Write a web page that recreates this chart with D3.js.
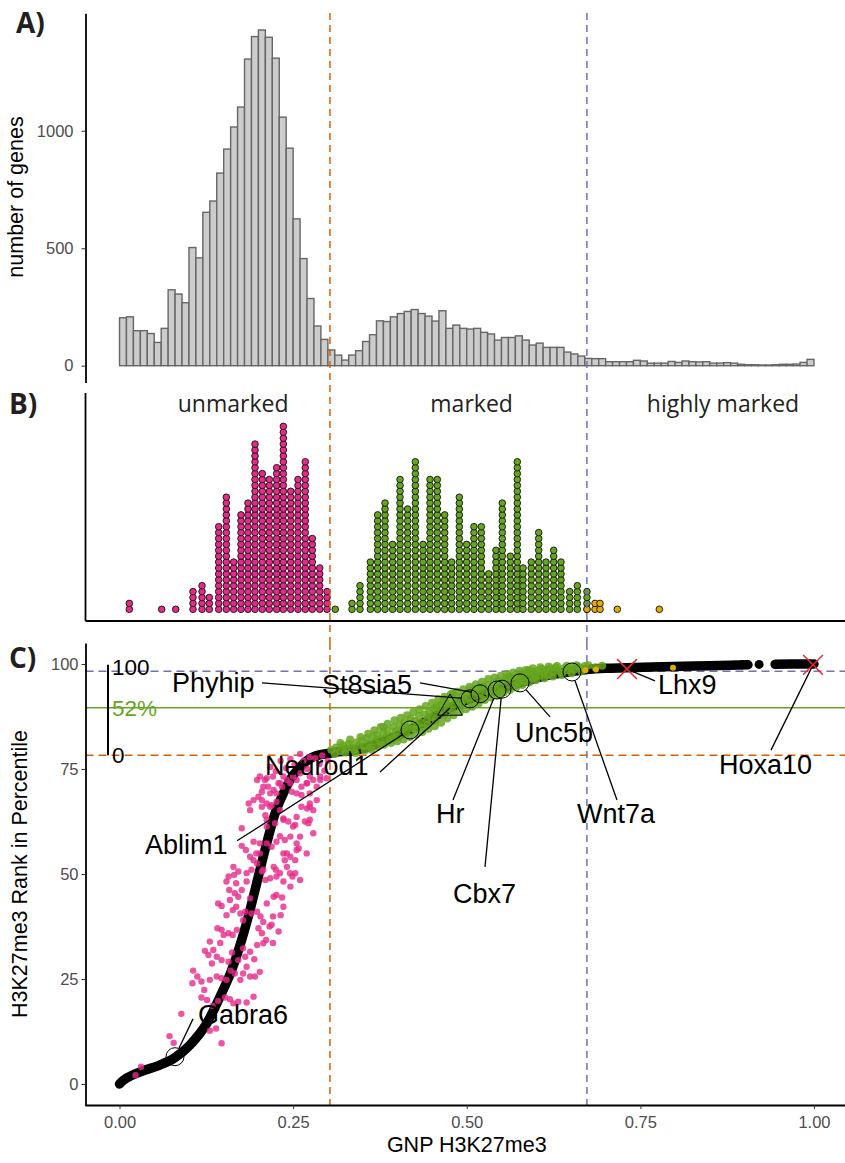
<!DOCTYPE html>
<html>
<head>
<meta charset="utf-8">
<script src="https://cdn.jsdelivr.net/npm/d3@7"></script>
<style>
  body { margin: 0; background: #fff; }
  svg { display: block; }
  .tick text { font-family: "Liberation Sans", Arial, sans-serif; font-size: 16.5px; fill: #4d4d4d; }
  .tick line { stroke: #333; }
</style>
</head>
<body>
<div id="chart"></div>
<script>
// ---- data ----

// A) histogram, 100 bins of width 0.01 over GNP H3K27me3 0..1
const binWidth = 0.01;
const histCounts = [
  204,208,149,149,137,99,159,323,305,268,
  503,459,653,701,820,922,1016,1101,1305,1401,
  1429,1398,1309,1058,926,625,456,286,169,112,
  67,45,24,45,64,103,132,191,188,208,
  222,231,239,222,211,190,234,159,173,159,
  156,159,142,135,109,120,120,127,109,88,
  96,78,78,78,58,50,41,31,30,30,
  17,17,17,17,23,20,11,11,11,18,
  14,20,17,16,17,11,11,13,11,6,
  4,4,3,3,4,6,6,7,14,27
];

// thresholds (GNP) and rank lines (percentile)
const cutUnmarked = 0.303;
const cutHigh = 0.673;
const rankHigh = 98.3;
const rankLow = 78.3;
const rankMid = 89.6;

// B) dot plot columns
const pinkX = [0.0141,0.0607,0.0809,0.1058,0.1188,0.1293,0.1428,0.1538,0.1644,0.1749,0.1850,
               0.1951,0.2056,0.2157,0.2263,0.2359,0.2465,0.2570,0.2675,0.2776,0.2883,0.2988];
const pinkN = [2,1,1,4,5,3,15,20,9,17,19,29,24,23,25,32,21,23,26,13,8,4];
const greenX = [0.3107,0.3348,0.3463,0.3612,0.3717,0.3823,0.3933,0.4039,0.4149,0.4260,0.4370,
                0.4471,0.4576,0.4682,0.4783,0.4893,0.4999,0.5104,0.5210,0.5316,0.5421,0.5512,
                0.5627,0.5728,0.5810,0.5929,0.6036,0.6141,0.6252,0.6357,0.6482,0.6592,0.6731];
const greenN = [1,2,5,9,17,19,12,23,18,26,12,23,23,17,9,20,12,15,15,7,11,19,10,26,8,9,14,9,11,9,4,5,4];
const orangeX = [0.6731,0.6847,0.6919,0.7168,0.7773];
const orangeN = [1,2,2,1,1];
const categories = ["unmarked","marked","highly marked"];
const categoryX = [0.1636,0.507,0.869];

// C) rank curve (black) and coloured genes
const blackCurve = [[0,0],[0.003,0.5],[0.03,2.9],[0.058,4.5],[0.08,6.3],[0.1015,9.3],[0.1255,14.4],
  [0.1447,20.8],[0.1615,27.1],[0.1759,34.3],[0.1879,41.4],[0.1999,49.4],[0.2119,57.3],[0.2239,64.4],
  [0.2359,69.2],[0.2455,72.4],[0.26,75.5],[0.279,77.9],[0.308,78.9],[0.351,79.9],[0.385,81.9],
  [0.418,84.3],[0.446,86.8],[0.474,89.3],[0.50,91.4],[0.525,92.9],[0.548,94.0],[0.572,95.3],
  [0.595,96.4],[0.62,97.4],[0.651,98.2],[0.673,98.7],[0.70,99.0],[0.73,99.1],[0.797,99.4],
  [0.85,99.6],[0.905,99.8]];
const blackTail = [[0.944,99.95],[0.97,100],[1.0,100]];
const blackDots = [[0.896,99.8],[0.921,99.9]];

const pinkPts = [
  [0.023,2.1],[0.031,4.1],[0.072,11.4],[0.078,9.8],[0.089,16.7],[0.130,12.7],[0.139,13.2],[0.147,9.7],
  [0.118,20.6],[0.126,20.0],[0.134,18.6],[0.142,19.8],[0.152,20.6],[0.159,20.2],[0.164,19.2],[0.171,19.6],
  [0.183,19.4],[0.193,20.8],
  [0.106,27.0],[0.112,25.6],[0.118,24.4],[0.105,24.0],[0.122,22.4],[0.130,24.8],[0.140,25.6],[0.147,25.2],
  [0.154,24.8],[0.160,27.0],[0.166,26.3],[0.174,24.8],[0.178,26.3],[0.188,25.6],[0.195,25.6],[0.202,26.7],
  [0.183,27.9],[0.157,29.1],[0.147,29.5],[0.133,28.7],
  [0.123,31.7],[0.128,30.7],[0.135,31.9],[0.140,30.3],[0.130,33.9],[0.145,33.6],[0.150,35.5],[0.157,35.9],
  [0.147,36.7],[0.141,37.1],[0.163,35.5],[0.169,36.7],[0.178,32.3],[0.181,30.3],[0.188,31.5],[0.194,29.7],
  [0.198,33.1],[0.207,33.5],[0.211,34.3],[0.205,35.9],[0.200,37.1],[0.216,37.5],[0.229,36.3],[0.221,33.6],
  [0.162,31.3],[0.171,29.5],
  [0.142,43.0],[0.147,42.4],[0.154,40.2],[0.163,41.4],[0.159,43.8],[0.168,42.2],[0.174,40.6],[0.178,39.0],
  [0.181,41.0],[0.190,40.6],[0.198,41.0],[0.203,39.9],[0.207,38.6],[0.222,44.6],[0.226,45.0],[0.234,44.4],
  [0.236,42.2],[0.232,40.2],[0.221,39.9],[0.219,37.9],[0.212,43.0],[0.158,46.2],[0.166,45.4],[0.171,44.6],
  [0.188,44.2],
  [0.164,51.7],[0.165,49.8],[0.157,49.4],[0.154,48.2],[0.168,47.8],[0.176,46.2],[0.183,48.2],[0.171,50.6],
  [0.190,51.0],[0.198,52.5],[0.205,50.6],[0.210,48.6],[0.222,51.7],[0.225,51.0],[0.231,50.2],[0.226,49.4],
  [0.236,48.2],[0.246,47.0],[0.249,49.4],[0.253,50.2],[0.241,51.7],[0.217,49.0],
  [0.176,60.9],[0.176,56.7],[0.182,55.7],[0.188,54.1],[0.197,54.9],[0.202,57.3],[0.193,57.7],[0.212,57.3],
  [0.219,56.5],[0.226,57.7],[0.231,59.0],[0.238,58.1],[0.246,58.9],[0.255,57.3],[0.258,56.1],[0.236,54.9],
  [0.246,54.1],[0.253,53.3],[0.255,55.7],[0.238,53.3],
  [0.186,66.8],[0.188,65.2],[0.193,67.6],[0.200,68.4],[0.205,66.0],[0.210,64.0],[0.212,66.8],[0.219,66.4],
  [0.226,67.2],[0.231,65.2],[0.236,63.2],[0.243,62.5],[0.255,63.6],[0.262,66.0],[0.270,65.6],[0.274,66.8],
  [0.279,65.2],[0.267,62.5],[0.272,62.1],[0.253,61.7],[0.224,62.1],[0.212,61.3],
  [0.198,72.4],[0.207,70.8],[0.212,72.8],[0.222,70.0],[0.229,71.6],[0.234,70.8],[0.236,73.2],[0.246,71.6],
  [0.248,69.6],[0.255,72.4],[0.262,70.8],[0.270,71.6],[0.274,73.2],[0.284,70.8],[0.289,72.4],[0.298,72.8],
  [0.217,69.2],[0.205,69.6],[0.262,68.8],[0.274,69.2],
  [0.260,78.6],[0.274,77.8],[0.246,77.4],[0.232,76.9],[0.288,76.2],[0.217,75.5],[0.225,74.5],[0.240,75.2],
  [0.270,75.0],[0.295,74.6],
  [0.202,73.2],[0.2095,72.4],[0.214,70.8],[0.221,73.2],[0.231,71.6],[0.241,72.4],[0.250,73.2],[0.260,74.0],
  [0.2695,71.6],[0.279,72.4],[0.289,73.2],[0.205,67.6],[0.217,66.0],[0.226,69.2],[0.255,69.2],[0.274,66.0],
  [0.284,67.6],[0.212,62.9],[0.236,62.9],[0.250,61.3],[0.274,62.9],[0.279,59.7],[0.260,58.9],[0.2695,54.9],
  [0.193,53.3],[0.202,54.9],[0.241,54.9],[0.183,50.2],[0.207,51.0],[0.2455,50.2],[0.260,48.6],
  [0.265,77.0],[0.282,77.6],[0.292,78.2],[0.252,76.0],[0.300,77.0]
];

const greenPts = [
  [0.305,79.6],[0.312,80.1],[0.318,79.2],[0.322,80.6],[0.326,79.8],[0.330,81.0],[0.334,80.2],[0.338,79.5],
  [0.341,81.3],[0.345,80.6],[0.349,81.8],[0.352,80.4],[0.356,82.3],[0.359,81.1],[0.362,80.2],[0.365,82.8],
  [0.368,81.6],[0.371,83.2],[0.374,82.0],[0.377,80.9],[0.380,83.6],[0.383,82.4],[0.386,84.1],[0.389,81.8],
  [0.392,83.0],[0.395,85.0],[0.398,84.0],[0.401,82.6],[0.404,85.6],[0.407,84.4],[0.410,86.1],[0.413,83.5],
  [0.416,85.2],[0.419,87.0],[0.422,84.6],[0.425,86.4],[0.428,85.4],[0.431,87.6],[0.434,86.0],[0.437,84.8],
  [0.440,88.0],[0.443,86.8],[0.446,88.6],[0.449,87.4],[0.452,89.3],[0.455,86.6],[0.458,88.2],[0.461,90.1],
  [0.464,89.0],[0.467,87.8],[0.470,90.6],[0.473,89.4],[0.476,91.2],[0.479,88.9],[0.482,90.4],[0.485,92.0],
  [0.488,91.0],[0.491,89.8],[0.494,92.4],[0.497,91.4],[0.500,93.0],[0.503,91.9],[0.506,90.8],[0.509,93.4],
  [0.512,92.4],[0.515,94.0],[0.518,93.0],[0.521,91.8],[0.524,94.6],[0.527,93.6],[0.530,95.0],[0.533,92.9],
  [0.536,94.2],[0.539,95.4],[0.542,94.0],[0.545,96.0],[0.548,94.8],[0.551,93.6],[0.554,95.8],[0.557,96.6],
  [0.560,95.2],[0.563,96.9],[0.566,95.8],[0.569,94.8],[0.572,97.0],[0.575,96.2],[0.578,97.6],[0.581,96.8],
  [0.584,95.9],[0.587,97.8],[0.590,97.0],[0.593,98.2],[0.596,96.6],[0.599,97.5],[0.602,98.4],[0.605,97.2],
  [0.608,98.8],[0.611,97.9],[0.614,98.6],[0.617,97.4],[0.620,98.9],[0.624,98.1],[0.628,99.2],[0.632,98.4],
  [0.636,97.9],[0.640,99.0],[0.645,98.5],[0.650,99.3],[0.655,98.7],[0.660,99.4],[0.665,98.9],[0.670,99.5],
  [0.310,78.6],[0.318,81.2],[0.325,78.9],[0.332,82.0],[0.340,78.8],[0.347,82.6],[0.353,79.4],[0.358,83.4],
  [0.363,79.6],[0.367,84.2],[0.372,80.3],[0.376,85.0],[0.381,80.8],[0.386,85.8],[0.391,81.2],[0.396,86.6],
  [0.400,81.6],[0.405,87.2],[0.409,82.0],[0.414,87.8],[0.418,82.6],
  [0.423,88.6],[0.427,83.2],[0.432,89.2],[0.436,83.8],[0.441,90.0],[0.445,84.6],[0.450,90.8],[0.454,85.2],
  [0.459,91.6],[0.463,86.0],[0.468,92.2],[0.472,87.0],[0.477,92.8],
  [0.481,87.8],[0.486,93.4],[0.490,88.6],[0.495,94.0],[0.499,89.2],[0.504,94.6],[0.508,89.8],[0.513,95.2],
  [0.517,90.6],[0.522,95.8],[0.526,91.4],[0.531,96.4],[0.535,92.0],[0.540,96.8],[0.544,92.6],[0.549,97.2],
  [0.553,93.2],[0.558,97.6],
  [0.562,93.8],[0.567,98.0],[0.571,94.4],[0.576,98.4],[0.580,95.0],[0.585,98.6],[0.590,95.6],[0.595,99.0],
  [0.600,96.2],[0.606,99.2],[0.612,96.6],[0.618,99.4],[0.624,97.0],[0.630,99.5],[0.637,97.4],[0.644,99.6],
  [0.651,97.8],[0.658,99.7],[0.665,98.2],[0.675,99.7],[0.685,99.2],[0.695,99.6],
  [0.380,85.0],[0.395,82.4],[0.411,84.9],[0.426,84.5],[0.444,85.5],[0.456,89.8],[0.466,91.0],[0.480,93.0],
  [0.492,90.6],[0.505,93.9],[0.520,94.6],[0.534,93.4],[0.547,93.0],[0.561,97.0],[0.574,95.5],[0.589,98.5]
];
const orangePts = [[0.671,98.5],[0.686,98.7],[0.797,99.1]];

// labelled genes: marker position, label line start, text start (baseline)
const genes   = ["Gabra6","Ablim1","Neurod1","Phyhip","St8sia5","Hr","Cbx7","Unc5b","Wnt7a","Lhx9","Hoxa10"];
const geneX   = [0.0799,0.4183,0.4759,0.5047,0.5191,0.5436,0.5508,0.5767,0.6515,0.7307,0.9986];
const geneY   = [6.5,84.3,89.5,91.7,92.9,93.8,94.0,95.5,98.1,98.8,99.8];
const geneShape = ["circle","circle","triangle","circle","circle","circle","circle","circle","circle","cross","cross"];
const lineX   = [0.1058,0.1692,0.3751,0.2052,0.4327,0.4802,0.5263,0.6199,0.7163,0.7711,0.9381];
const lineY   = [15.5,57.9,74.3,95.5,95.5,67.6,51.7,87.4,67.6,96.0,79.5];
const textX   = [0.1130,0.0367,0.2095,0.0756,0.2916,0.4557,0.4802,0.5695,0.6588,0.7754,0.8632];
const textY   = [14.3,54.8,73.6,93.3,92.9,62.1,43.1,81.4,62.1,92.9,73.8];

// ---- drawing ----
const W = 845, H = 1163;
const svg = d3.select("#chart").append("svg").attr("width", W).attr("height", H);

const col = {pink:"#E7298A", green:"#66A61E", orange:"#E6AB02", red:"#D95F02", purple:"#7570B3"};
const sans = '"Liberation Sans", Arial, sans-serif';
const myriad = '"Open Sans", "Noto Sans", sans-serif';

const x = d3.scaleLinear().domain([-0.05, 1.05]).range([84.8, 848.7]);
const yA = d3.scaleLinear().domain([-71.5, 1500]).range([382.5, 13.3]);
const yC = d3.scaleLinear().domain([-5, 105]).range([1105, 643]);
const stackY = d3.scaleLinear().domain([0, 1]).range([609.3, 603.4]);
const axisX = 85.5;

// ---- panel A ----
svg.append("g").selectAll("rect").data(histCounts).join("rect")
  .attr("x", (d, i) => x(i * binWidth))
  .attr("width", x(binWidth) - x(0))
  .attr("y", d => yA(d))
  .attr("height", d => yA(0) - yA(d))
  .attr("fill", "#cccccc").attr("stroke", "#666").attr("stroke-width", 1.4);

const axA = svg.append("g").attr("transform", `translate(${axisX},0)`)
  .call(d3.axisLeft(yA).tickValues([0, 500, 1000]).tickFormat(d3.format("d"))
    .tickSize(4).tickPadding(8).tickSizeOuter(0));
axA.select(".domain").attr("stroke", "#000").attr("stroke-width", 1.8);

svg.append("text").attr("transform", "translate(23,197) rotate(-90)")
  .attr("text-anchor", "middle").attr("font-family", sans).attr("font-size", 21.5)
  .text("number of genes");

// ---- panel B ----
svg.append("line").attr("x1", axisX).attr("x2", axisX).attr("y1", 393).attr("y2", 621)
  .attr("stroke", "#000").attr("stroke-width", 1.8);
svg.append("line").attr("x1", axisX).attr("x2", W).attr("y1", 621).attr("y2", 621)
  .attr("stroke", "#000").attr("stroke-width", 1.8);

function stack(xs, ns, fill) {
  const pts = [];
  xs.forEach((v, i) => { for (let k = 0; k < ns[i]; k++) pts.push([v, k]); });
  svg.append("g").selectAll("circle").data(pts).join("circle")
    .attr("cx", d => x(d[0])).attr("cy", d => stackY(d[1])).attr("r", 3.3)
    .attr("fill", fill).attr("stroke", "#111").attr("stroke-width", 0.9);
}
stack(pinkX, pinkN, col.pink);
stack(greenX, greenN, col.green);
stack(orangeX, orangeN, col.orange);

svg.append("g").selectAll("text").data(categories).join("text")
  .attr("x", (d, i) => x(categoryX[i])).attr("y", 412)
  .attr("text-anchor", "middle").attr("font-family", myriad).attr("font-size", 23)
  .attr("fill", "#231f20").text(d => d);

// ---- panel C ----
const hLines = [[rankHigh, col.purple, "8,5"], [rankLow, col.red, "8,5"], [rankMid, col.green, null]];
hLines.forEach(h => {
  svg.append("line").attr("x1", axisX).attr("x2", W).attr("y1", yC(h[0])).attr("y2", yC(h[0]))
    .attr("stroke", h[1]).attr("stroke-width", 1.5).attr("stroke-dasharray", h[2]);
});
[[cutUnmarked, col.red], [cutHigh, col.purple]].forEach(v => {
  svg.append("line").attr("x1", x(v[0])).attr("x2", x(v[0])).attr("y1", 643).attr("y2", 1105)
    .attr("stroke", v[1]).attr("stroke-width", 1.5).attr("stroke-dasharray", "7,5");
});

const line = d3.line().x(d => x(d[0])).y(d => yC(d[1])).curve(d3.curveMonotoneX);
[blackCurve, blackTail].forEach(c => {
  svg.append("path").attr("d", line(c)).attr("fill", "none").attr("stroke", "#000")
    .attr("stroke-width", 9.5).attr("stroke-linecap", "round").attr("stroke-linejoin", "round");
});
svg.append("g").selectAll("circle").data(blackDots).join("circle")
  .attr("cx", d => x(d[0])).attr("cy", d => yC(d[1])).attr("r", 4.5).attr("fill", "#000");

function scatter(pts, fill, r, op) {
  svg.append("g").selectAll("circle").data(pts).join("circle")
    .attr("cx", d => x(d[0])).attr("cy", d => yC(d[1])).attr("r", r)
    .attr("fill", fill).attr("fill-opacity", op);
}
scatter(pinkPts, col.pink, 3.2, 0.8);
scatter(greenPts, col.green, 4, 0.85);
scatter(orangePts, col.orange, 3, 1);

// label lines, markers, labels
const rMark = 9;
genes.forEach((g, i) => {
  const px = x(geneX[i]), py = yC(geneY[i]);
  const lx = x(lineX[i]), ly = yC(lineY[i]);
  const dx = px - lx, dy = py - ly, len = Math.hypot(dx, dy);
  const cut = geneShape[i] === "circle" ? rMark : 0;
  svg.append("line").attr("x1", lx).attr("y1", ly)
    .attr("x2", px - dx / len * cut).attr("y2", py - dy / len * cut)
    .attr("stroke", "#000").attr("stroke-width", 1.3);
  if (geneShape[i] === "circle") {
    svg.append("circle").attr("cx", px).attr("cy", py).attr("r", rMark)
      .attr("fill", "none").attr("stroke", "#000").attr("stroke-width", 1);
  } else if (geneShape[i] === "triangle") {
    svg.append("path").attr("transform", `translate(${px},${py})`)
      .attr("d", d3.symbol(d3.symbolTriangle, 260)())
      .attr("fill", "none").attr("stroke", "#000").attr("stroke-width", 1);
  } else {
    svg.append("path").attr("transform", `translate(${px},${py}) rotate(45)`)
      .attr("d", "M-14,0H14M0,-14V14")
      .attr("stroke", "#f0282d").attr("stroke-width", 1.5);
  }
  svg.append("text").attr("x", x(textX[i])).attr("y", yC(textY[i]))
    .attr("font-family", sans).attr("font-size", 27).attr("fill", "#000").text(g);
});

// scale bar 0-100 between the rank lines
svg.append("line").attr("x1", 108).attr("x2", 108).attr("y1", yC(99.8)).attr("y2", yC(rankLow))
  .attr("stroke", "#000").attr("stroke-width", 2);
const barLabels = [["100", 97.4, "#000"], ["52%", 87.6, col.green], ["0", 76.5, "#000"]];
barLabels.forEach(b => {
  svg.append("text").attr("x", 112).attr("y", yC(b[1])).attr("font-family", sans)
    .attr("font-size", 22.5).attr("fill", b[2]).text(b[0]);
});

const axCx = svg.append("g").attr("transform", "translate(0,1105)")
  .call(d3.axisBottom(x).tickValues([0, 0.25, 0.5, 0.75, 1]).tickFormat(d3.format(".2f"))
    .tickSize(4).tickPadding(7).tickSizeOuter(0));
axCx.select(".domain").attr("stroke", "#000").attr("stroke-width", 1.8);
const axCy = svg.append("g").attr("transform", `translate(${axisX},0)`)
  .call(d3.axisLeft(yC).tickValues([0, 25, 50, 75, 100]).tickSize(4).tickPadding(3).tickSizeOuter(0));
axCy.select(".domain").attr("stroke", "#000").attr("stroke-width", 1.8);

svg.append("text").attr("x", x(0.5)).attr("y", 1152).attr("text-anchor", "middle")
  .attr("font-family", sans).attr("font-size", 21.5).text("GNP H3K27me3");
svg.append("text").attr("transform", "translate(27,874) rotate(-90)").attr("text-anchor", "middle")
  .attr("font-family", sans).attr("font-size", 21.5).text("H3K27me3 Rank in Percentile");

// threshold lines through panels A and B, on top
[[cutUnmarked, col.red], [cutHigh, col.purple]].forEach(v => {
  svg.append("line").attr("x1", x(v[0])).attr("x2", x(v[0])).attr("y1", 13).attr("y2", 643)
    .attr("stroke", v[1]).attr("stroke-width", 1.5).attr("stroke-dasharray", "7,5");
});

// panel letters
[["A)", 16, 33], ["B)", 9, 414], ["C)", 9, 668]].forEach(p => {
  svg.append("text").attr("x", p[1]).attr("y", p[2]).attr("font-family", myriad)
    .attr("font-weight", 700).attr("font-size", 28).attr("fill", "#231f20").text(p[0]);
});
</script>
</body>
</html>
